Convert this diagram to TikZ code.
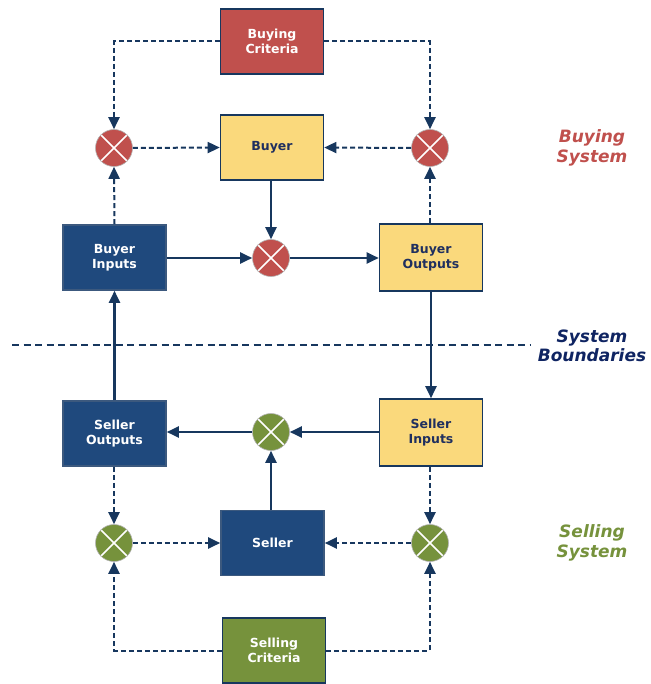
\documentclass[tikz,border=0pt]{standalone}
\usepackage{fontspec}
\setmainfont{DejaVu Sans}
\usetikzlibrary{arrows.meta}
\definecolor{cred}{HTML}{C0504D}
\definecolor{cyel}{HTML}{FAD97C}
\definecolor{cblue}{HTML}{1F497D}
\definecolor{cgreen}{HTML}{76923C}
\definecolor{cnavy}{HTML}{17375E}
\definecolor{ctext}{HTML}{1F2F5F}
\definecolor{cnavytxt}{HTML}{0F2462}
\tikzset{
  box/.style={rectangle, draw=cnavy, line width=1.6pt, minimum width=103pt, minimum height=65pt, inner sep=0pt, align=center, font=\fontsize{12.5}{15.5}\selectfont\bfseries},
  redbox/.style={box, fill=cred, text=white},
  yelbox/.style={box, fill=cyel, text=ctext},
  bluebox/.style={box, fill=cblue, draw=cblue!70!gray, text=white},
  grnbox/.style={box, fill=cgreen, text=white},
  junc/.style={circle, minimum size=37pt, inner sep=0pt, draw=gray!60, line width=0.6pt, fill=#1,
    path picture={\draw[white, line width=1.5pt] (path picture bounding box.north west) ++(5.4pt,-5.4pt) -- ([shift={(-5.4pt,5.4pt)}]path picture bounding box.south east);
                  \draw[white, line width=1.5pt] ([shift={(5.4pt,5.4pt)}]path picture bounding box.south west) -- ([shift={(-5.4pt,-5.4pt)}]path picture bounding box.north east);}},
  solidarrow/.style={draw=cnavy, line width=2.1pt, -{Triangle[length=12pt,width=11pt]}},
  dasharrow/.style={draw=cnavy, line width=2pt, dash pattern=on 5pt off 3pt, -{Triangle[length=12pt,width=11pt]}},
  sidelabel/.style={align=center, font=\fontsize{17}{19.5}\selectfont\bfseries\itshape},
}
\begin{document}
\begin{tikzpicture}[x=1pt,y=-1pt]
\useasboundingbox (0,0) rectangle (650,684);
% boxes
\node[redbox] (bc) at (272,41.5) {Buying\\Criteria};
\node[yelbox] (buyer) at (272,147.5) {Buyer};
\node[bluebox] (bin) at (114.5,257.5) {Buyer\\Inputs};
\node[yelbox, minimum height=67pt] (bout) at (431,257.5) {Buyer\\Outputs};
\node[bluebox] (sout) at (114.5,433.5) {Seller\\Outputs};
\node[yelbox, minimum height=67pt] (sin) at (431,432.5) {Seller\\Inputs};
\node[bluebox] (seller) at (272.5,543) {Seller};
\node[grnbox] (sc) at (274,650.5) {Selling\\Criteria};
% junctions
\node[junc=cred] (jtl) at (114,148) {};
\node[junc=cred] (jtr) at (430,148) {};
\node[junc=cred] (jtm) at (271,258) {};
\node[junc=cgreen] (jbm) at (271,432) {};
\node[junc=cgreen] (jbl) at (114,543) {};
\node[junc=cgreen] (jbr) at (430,543) {};
% side labels
\node[sidelabel, text=cred] (lbuy) at (592,148) {Buying\\System};
\node[sidelabel, text=cnavytxt] (lbound) at (592,346) {System\\Boundaries};
\node[sidelabel, text=cgreen] (lsell) at (592,543) {Selling\\System};
% boundary line
\draw[cnavy, line width=2.2pt, dash pattern=on 7pt off 4.5pt] (12,345) -- (530,345);
% buying system connectors
\draw[dasharrow] (bc.west) -| (jtl.north);
\draw[dasharrow] (bc.east) -| (jtr.north);
\draw[dasharrow] (jtl.east) -- (buyer.west);
\draw[dasharrow] (jtr.west) -- (buyer.east);
\draw[dasharrow] (bin.north) -- (jtl.south);
\draw[dasharrow] (bout.north -| jtr.south) -- (jtr.south);
\draw[solidarrow] (buyer.south -| jtm.north) -- (jtm.north);
\draw[solidarrow] (bin.east |- jtm.west) -- (jtm.west);
\draw[solidarrow] (jtm.east) -- (bout.west |- jtm.east);
% cross-boundary
\draw[solidarrow] (bout.south) -- (sin.north);
\draw[solidarrow] (sout.north) -- (bin.south);
% selling system connectors
\draw[solidarrow] (sin.west |- jbm.east) -- (jbm.east);
\draw[solidarrow] (jbm.west) -- (sout.east |- jbm.west);
\draw[solidarrow] (seller.north -| jbm.south) -- (jbm.south);
\draw[dasharrow] (sout.south -| jbl.north) -- (jbl.north);
\draw[dasharrow] (sin.south -| jbr.north) -- (jbr.north);
\draw[dasharrow] (jbl.east) -- (seller.west);
\draw[dasharrow] (jbr.west) -- (seller.east);
\draw[dasharrow] (sc.west) -| (jbl.south);
\draw[dasharrow] (sc.east) -| (jbr.south);
\end{tikzpicture}
\end{document}
